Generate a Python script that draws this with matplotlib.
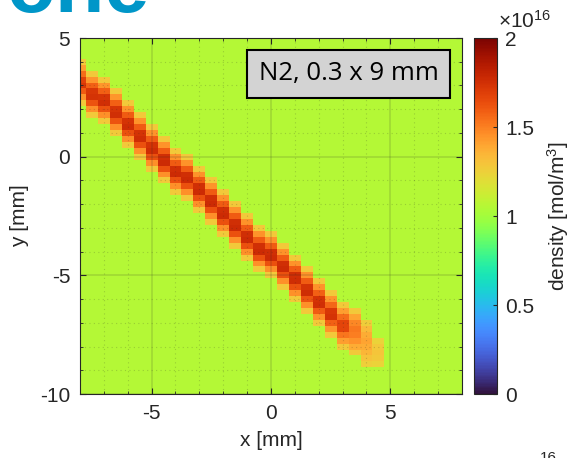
import numpy as np
import matplotlib
matplotlib.use("Agg")
import matplotlib.pyplot as plt
from matplotlib.ticker import MultipleLocator, FixedLocator

plt.rcParams['font.family'] = ['Liberation Sans', 'DejaVu Sans']
plt.rcParams['axes.unicode_minus'] = False
plt.rcParams['mathtext.fontset'] = 'custom'
plt.rcParams['mathtext.rm'] = 'Liberation Sans'
plt.rcParams['mathtext.it'] = 'Liberation Sans:italic'

# grid cell centres [mm]
x_centers = np.arange(-8.0, 8.01, 0.5)
y_centers = np.arange(-10.0, 5.01, 0.25)

# density in units of 1e16 mol/m^3
background = 1.05

# stripe: one entry per column from x = -8 mm, top row y [mm] and values going down
stripe_top = [4.0, 3.5, 3.25, 2.75, 2.25, 1.75, 1.25, 0.75, 0.25, 0.0, -0.5,
              -1.0, -1.5, -2.0, -2.5, -3.0, -3.25, -3.75, -4.25, -4.75, -5.25,
              -5.75, -6.25, -6.5, -7.0, -7.75]
stripe_vals = [
    [1.28, 1.42, 1.55, 1.68, 1.72, 1.6, 1.45, 1.28],
    [1.28, 1.44, 1.58, 1.72, 1.74, 1.62, 1.46, 1.28],
    [1.28, 1.44, 1.58, 1.73, 1.75, 1.62, 1.46, 1.28],
    [1.28, 1.44, 1.58, 1.73, 1.75, 1.62, 1.46, 1.28],
    [1.28, 1.45, 1.6, 1.74, 1.76, 1.63, 1.46, 1.28],
    [1.28, 1.45, 1.6, 1.74, 1.76, 1.63, 1.46, 1.28],
    [1.28, 1.45, 1.6, 1.74, 1.76, 1.63, 1.46, 1.28],
    [1.28, 1.45, 1.6, 1.75, 1.77, 1.63, 1.46, 1.28],
    [1.28, 1.45, 1.6, 1.75, 1.77, 1.63, 1.46, 1.28],
    [1.28, 1.45, 1.6, 1.75, 1.77, 1.63, 1.46, 1.28],
    [1.28, 1.45, 1.6, 1.75, 1.77, 1.63, 1.46, 1.28],
    [1.28, 1.45, 1.6, 1.75, 1.77, 1.63, 1.46, 1.28],
    [1.28, 1.45, 1.6, 1.75, 1.77, 1.63, 1.46, 1.28],
    [1.28, 1.45, 1.6, 1.75, 1.77, 1.63, 1.46, 1.28],
    [1.28, 1.45, 1.6, 1.75, 1.77, 1.63, 1.46, 1.28],
    [1.28, 1.45, 1.6, 1.75, 1.77, 1.63, 1.46, 1.28],
    [1.28, 1.45, 1.6, 1.75, 1.77, 1.63, 1.46, 1.28],
    [1.28, 1.45, 1.6, 1.75, 1.77, 1.63, 1.46, 1.28],
    [1.28, 1.45, 1.6, 1.75, 1.76, 1.63, 1.46, 1.28],
    [1.28, 1.45, 1.6, 1.74, 1.76, 1.62, 1.46, 1.28],
    [1.28, 1.45, 1.58, 1.74, 1.75, 1.6, 1.45, 1.28],
    [1.28, 1.44, 1.57, 1.72, 1.74, 1.58, 1.44, 1.28],
    [1.28, 1.42, 1.55, 1.67, 1.67, 1.53, 1.42, 1.28],
    [1.28, 1.4, 1.48, 1.52, 1.5, 1.45, 1.38, 1.28],
    [1.26, 1.33, 1.38, 1.4, 1.38, 1.35, 1.3, 1.25],
    [1.24, 1.28, 1.29, 1.28, 1.24],
]

x_ticks = [-5, 0, 5]
y_ticks = [-10, -5, 0, 5]
cbar_ticks = [0, 0.5, 1, 1.5, 2]

density = np.full((len(y_centers), len(x_centers)), background)
for col, (top, vals) in enumerate(zip(stripe_top, stripe_vals)):
    for i, v in enumerate(vals):
        row = int(round((top - 0.25 * i - y_centers[0]) / 0.25))
        density[row, col] = v

x_edges = np.append(x_centers - 0.25, x_centers[-1] + 0.25)
y_edges = np.append(y_centers - 0.125, y_centers[-1] + 0.125)

fig = plt.figure(figsize=(5.71, 4.58), dpi=100)
ax = fig.add_axes([0.1401, 0.1397, 0.669, 0.7773])
cax = fig.add_axes([0.830, 0.1397, 0.040, 0.7773])

mesh = ax.pcolormesh(x_edges, y_edges, density, cmap='turbo', vmin=0, vmax=2,
                     shading='flat', rasterized=True)
ax.set_xlim(-8, 8)
ax.set_ylim(-10, 5)

txt_col = '#262626'
ax.xaxis.set_major_locator(FixedLocator(x_ticks))
ax.yaxis.set_major_locator(FixedLocator(y_ticks))
ax.xaxis.set_minor_locator(MultipleLocator(1))
ax.yaxis.set_minor_locator(MultipleLocator(1))
ax.tick_params(which='both', direction='in', top=True, right=True,
               labelsize=15, colors=txt_col, labelcolor=txt_col)
ax.tick_params(which='major', length=4, pad=7)
ax.tick_params(which='minor', length=2)
ax.set_axisbelow(False)
ax.grid(which='major', color='#262626', alpha=0.15, linewidth=1.2)
ax.grid(which='minor', color='#262626', alpha=0.2, linewidth=0.8,
        linestyle=(0, (1, 3)))
for s in ax.spines.values():
    s.set_color(txt_col)
    s.set_linewidth(0.8)

ax.set_xlabel('x [mm]', fontsize=15, color=txt_col, labelpad=6)
ax.set_ylabel('y [mm]', fontsize=15, color=txt_col, labelpad=8)

ax.text(0.704, 0.90, 'N2, 0.3 x 9 mm', transform=ax.transAxes,
        fontsize=18.5, family=['Open Sans', 'DejaVu Sans'], ha='center',
        va='center', color='black',
        bbox=dict(boxstyle='square,pad=0.45', facecolor='#d3d3d3',
                  edgecolor='black', linewidth=1.5))

cb = fig.colorbar(mesh, cax=cax, ticks=cbar_ticks)
cb.ax.set_yticklabels(['0', '0.5', '1', '1.5', '2'])
cb.ax.tick_params(direction='in', length=3, labelsize=15, colors=txt_col,
                  labelcolor=txt_col, pad=6)
cb.outline.set_edgecolor(txt_col)
cb.outline.set_linewidth(0.8)
cb.set_label('density [mol/m$^3$]', fontsize=15, color=txt_col, labelpad=8)
cax.text(1.05, 1.028, r'$\times10^{16}$', transform=cax.transAxes,
         fontsize=15, color=txt_col, ha='left', va='baseline')

# bits of neighbouring slide content that got cropped into the picture
fig.text(0.012, 0.974, 'one', fontsize=58, fontweight='bold',
         color='#0096c8', ha='left', va='baseline')
fig.text(0.945, -0.015, '16', fontsize=11, color=txt_col, ha='left',
         va='bottom')

fig.savefig('out.png', dpi=100)
